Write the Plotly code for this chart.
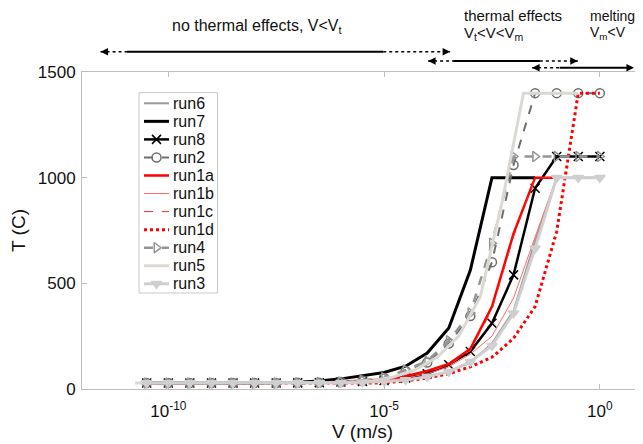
import plotly.graph_objects as go

# ---- data ----
V = [3.16e-11, 1e-10, 3.16e-10, 1e-09, 3.16e-09, 1e-08, 3.16e-08, 1e-07, 3.16e-07,
     1e-06, 3.16e-06, 1e-05, 3.16e-05, 1e-04, 3.16e-04, 1e-03, 3.16e-03, 1e-02,
     3.16e-02, 1e-01, 3.16e-01, 1.0]

run6 = [28, 28, 28, 28, 28, 28, 28, 29, 30, 32, 35, 40, 48, 60, 82, 125, 215, 370, 700, 1000, 1000, 1000]
run7 = [28, 28, 28, 28, 28, 28, 29, 32, 38, 48, 64, 78, 108, 170, 289, 563, 1000, 1000, 1000]
run8 = [28, 28, 28, 28, 28, 28, 28, 29, 30, 33, 36, 40, 52, 72, 115, 177, 311, 540, 950, 1100, 1100, 1100]
run2 = [28, 28, 28, 28, 28, 28, 28, 29, 30, 33, 40, 52, 85, 125, 215, 345, 600, 1060, 1400, 1400, 1400, 1400]
run1a = [28, 28, 28, 28, 28, 28, 28, 29, 31, 34, 38, 45, 60, 85, 118, 190, 390, 735, 1000, 1000]
run1b = [28, 28, 28, 28, 28, 28, 28, 29, 30, 32, 35, 40, 52, 72, 105, 165, 250, 430, 720, 1000]
run1c = [28, 28, 28, 28, 28, 28, 28, 29, 31, 33, 37, 42, 56, 80, 112, 182, 375, 720, 1000, 1000]
run1d = [28, 28, 28, 28, 28, 28, 28, 28, 28, 28, 28, 29, 38, 52, 72, 105, 150, 240, 390, 745, 1400, 1400]
run4 = [28, 28, 28, 28, 28, 28, 28, 29, 30, 33, 40, 53, 90, 132, 228, 360, 690, 1100, 1100, 1100, 1100, 1100]
run3 = [28, 28, 28, 28, 28, 28, 28, 28, 29, 30, 32, 35, 43, 58, 82, 129, 205, 358, 666, 1000, 1000, 1000]

V5 = [1.7e-11, 5.37e-11, 1.7e-10, 5.37e-10, 1.7e-09, 5.37e-09, 1.7e-08, 5.37e-08, 1.7e-07,
      5.37e-07, 1.7e-06, 5.37e-06, 1.7e-05, 5.37e-05, 1.7e-04, 5.37e-04, 1.7e-03, 5.37e-03,
      1.7e-02, 3.16e-01]
run5 = [28, 28, 28, 28, 28, 28, 28, 28, 29, 30, 32, 38, 58, 92, 150, 250, 437, 880, 1400, 1400]

x_ticks = [1e-10, 1e-05, 1.0]
x_ticktext = ["10<sup>-10</sup>", "10<sup>-5</sup>", "10<sup>0</sup>"]
y_ticks = [0, 500, 1000, 1500]
X_LOG_RANGE = [-12, 1]

# regime labels (one entry per text line) and arrows (log10 V spans)
label_lines = ["no thermal effects, V<V<sub>t</sub>",
               "thermal effects", "V<sub>t</sub><V<V<sub>m</sub>",
               "melting", "V<sub>m</sub><V"]
label_logx = [-7.95, -3.17, -3.17, -0.25, -0.25]
label_y = [1.142, 1.178, 1.123, 1.178, 1.123]
label_anchor = ["center", "left", "left", "left", "left"]
label_size = [16, 15, 15, 14, 14]
arrow_start = [-11.57, -3.98, -1.57]
solid_start = [-10.96, -3.40, -0.93]
solid_end = [-5.02, -1.39, 0.68]
arrow_end = [-3.47, -0.51, 0.79]
arrow_y = [1.064, 1.035, 1.0136]

FONT = "Liberation Sans, Arial, Helvetica, sans-serif"
AX = "#bdbdbd"
TXT = "#111111"

# The page body has an 8px margin, so the figure is drawn 8px in from the
# viewport's top-left.
PAGE_OFF = 8
FIG_W, FIG_H = 643 - PAGE_OFF, 444 - PAGE_OFF
# plot-area geometry in viewport px
L, R, T, B = 82, 643, 72, 389
def px_x(p):
    return (p - L) / (R - L)
def px_y(p):
    return (B - p) / (B - T)
def log_to_paper(lx):
    return (lx - X_LOG_RANGE[0]) / (X_LOG_RANGE[1] - X_LOG_RANGE[0])

series = [
    dict(name="run6", x=V, y=run6, color="#9a9a9a", width=2),
    dict(name="run7", x=V, y=run7, color="#000000", width=3),
    dict(name="run8", x=V, y=run8, color="#000000", width=2.5, symbol="x-thin-open", msize=9),
    dict(name="run2", x=V, y=run2, color="#6e6e6e", width=2, dash="dash", symbol="circle-open", msize=9),
    dict(name="run1a", x=V, y=run1a, color="#ff0000", width=2.5),
    dict(name="run1b", x=V, y=run1b, color="#ff6a6a", width=1),
    dict(name="run1c", x=V, y=run1c, color="#ff2a2a", width=1, dash="dash"),
    dict(name="run1d", x=V, y=run1d, color="#ff0000", width=3, dash="dot"),
    dict(name="run4", x=V, y=run4, color="#959595", width=2.5, dash="dash", symbol="triangle-right-open", msize=9),
    dict(name="run5", x=V5, y=run5, color="#dcd9d5", width=3),
    dict(name="run3", x=V, y=run3, color="#cfcfcf", width=3, symbol="triangle-down", msize=9),
]

fig = go.Figure()

def marker_for(s):
    if not s.get("symbol"):
        return None
    return dict(symbol=s["symbol"], size=s["msize"], color=s["color"],
                line=dict(color=s["color"], width=1.5))

for s in series:
    fig.add_trace(go.Scatter(
        x=s["x"][:len(s["y"])], y=s["y"], name=s["name"],
        mode="lines+markers" if s.get("symbol") else "lines",
        line=dict(color=s["color"], width=s["width"], dash=s.get("dash", "solid")),
        marker=marker_for(s), showlegend=False))

# ---- hand-made legend (tighter row spacing than plotly's native legend) ----
LEG_BOX = (139, 217.5, 92.7, 293)
LEG_ROW0, LEG_DY = 103.3, 18.05
LEG_LINE = (144, 169)
LEG_TEXT_X = 171

shapes = [dict(type="rect", xref="paper", yref="paper",
               x0=px_x(LEG_BOX[0]), x1=px_x(LEG_BOX[1]),
               y0=px_y(LEG_BOX[3]), y1=px_y(LEG_BOX[2]),
               line=dict(color="#c8c8c8", width=1), fillcolor="white", layer="below")]
annotations = []

for i, s in enumerate(series):
    yy = px_y(LEG_ROW0 + i * LEG_DY)
    x0, x1 = px_x(LEG_LINE[0]), px_x(LEG_LINE[1])
    fig.add_trace(go.Scatter(
        x=[x0, x1], y=[yy, yy], xaxis="x2", yaxis="y2", mode="lines",
        line=dict(color=s["color"], width=s["width"], dash=s.get("dash", "solid")),
        showlegend=False, hoverinfo="skip"))
    if s.get("symbol"):
        fig.add_trace(go.Scatter(
            x=[(x0 + x1) / 2], y=[yy], xaxis="x2", yaxis="y2", mode="markers",
            marker=marker_for(s), showlegend=False, hoverinfo="skip"))
    annotations.append(dict(x=px_x(LEG_TEXT_X), y=yy, xref="paper", yref="paper",
                            text=s["name"], showarrow=False, xanchor="left", yanchor="middle",
                            font=dict(size=16, family=FONT, color=TXT)))

# ---- regime arrows and labels above the axes ----
for i in range(3):
    for (a, b, dash, w) in [(arrow_start[i], solid_start[i], "dot", 1.5),
                            (solid_start[i], solid_end[i], "solid", 2),
                            (solid_end[i], arrow_end[i], "dot", 1.5)]:
        shapes.append(dict(type="line", xref="paper", yref="paper",
                           x0=log_to_paper(a), x1=log_to_paper(b),
                           y0=arrow_y[i], y1=arrow_y[i],
                           line=dict(color="black", width=w, dash=dash)))
    for tip, ax in [(arrow_start[i], 5), (arrow_end[i], -5)]:
        annotations.append(dict(x=log_to_paper(tip), y=arrow_y[i], xref="paper", yref="paper",
                                text="", showarrow=True, ax=ax, ay=0, arrowhead=2,
                                arrowsize=1, arrowwidth=1.5, arrowcolor="black", standoff=0))
for j, txt in enumerate(label_lines):
    annotations.append(dict(x=log_to_paper(label_logx[j]), y=label_y[j],
                            xref="paper", yref="paper", text=txt, showarrow=False,
                            xanchor=label_anchor[j], yanchor="middle", borderpad=0,
                            font=dict(size=label_size[j], color=TXT, family=FONT)))

fig.update_layout(
    width=FIG_W, height=FIG_H,
    margin=dict(l=L - PAGE_OFF, r=FIG_W - (R - PAGE_OFF), t=T - PAGE_OFF, b=FIG_H - (B - PAGE_OFF)),
    paper_bgcolor="white", plot_bgcolor="white",
    font=dict(family=FONT, color=TXT),
    shapes=shapes, annotations=annotations,
    showlegend=False,
    xaxis2=dict(overlaying="x", range=[0, 1], visible=False, anchor="y2", fixedrange=True),
    yaxis2=dict(overlaying="y", range=[0, 1], visible=False, anchor="x2", fixedrange=True),
)
fig.update_layout(xaxis=dict(
    type="log", range=X_LOG_RANGE, tickvals=x_ticks, ticktext=x_ticktext,
    ticks="inside", ticklen=5, tickcolor=AX, showline=True, linecolor=AX,
    mirror="ticks", showgrid=False, zeroline=False, automargin=False,
    ticklabelstandoff=7,
    tickfont=dict(size=17, family=FONT, color=TXT),
    title=dict(text="V (m/s)", font=dict(size=19, family=FONT, color=TXT), standoff=0)))
fig.update_layout(yaxis=dict(
    range=[0, 1500], tickvals=y_ticks, ticks="inside", ticklen=5, tickcolor=AX,
    showline=True, linecolor=AX, mirror="ticks", showgrid=False, zeroline=False,
    automargin=False, ticklabelstandoff=2,
    tickfont=dict(size=17, family=FONT, color=TXT),
    title=dict(text="T (C)", font=dict(size=19, family=FONT, color=TXT), standoff=9)))

fig.write_html("out.html")
